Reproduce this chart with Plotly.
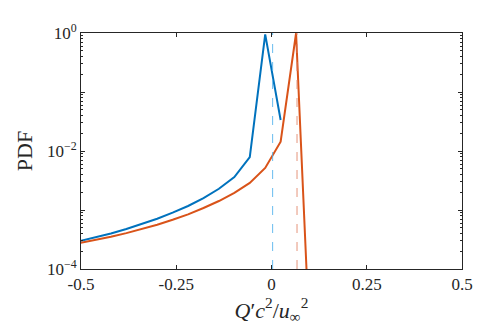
import plotly.graph_objects as go

# bin centres
x_blue = [-0.5025, -0.462, -0.4215, -0.381, -0.3405, -0.300, -0.2595, -0.219,
          -0.1785, -0.138, -0.0975, -0.057, -0.0165, 0.024]
pdf_blue = [2.99e-4, 3.43e-4, 4.01e-4, 4.76e-4, 5.77e-4, 7.12e-4, 9.0e-4, 1.17e-3,
            1.59e-3, 2.29e-3, 3.62e-3, 7.91e-3, 0.95, 0.0335]

x_orange = [-0.5025, -0.462, -0.4215, -0.381, -0.3405, -0.300, -0.2595, -0.219,
            -0.1785, -0.138, -0.0975, -0.057, -0.0165, 0.024, 0.0645, 0.105]
pdf_orange = [2.76e-4, 3.10e-4, 3.53e-4, 4.06e-4, 4.74e-4, 5.64e-4, 6.82e-4, 8.45e-4,
              1.08e-3, 1.42e-3, 1.95e-3, 2.88e-3, 5.15e-3, 0.0144, 0.99, 1.2e-6]

mean_blue = 0.003
mean_orange = 0.067

x_ticks = [-0.5, -0.25, 0, 0.25, 0.5]
x_ticktext = ["-0.5", "-0.25", "0", "0.25", "0.5"]
y_ticks = [1e-4, 1e-3, 1e-2, 1e-1, 1]
y_ticktext = ["10<sup>\u22124</sup>", "", "10<sup>\u22122</sup>", "", "10<sup>0</sup>"]

BLUE = "#0072BD"
ORANGE = "#D95319"
AX = "#262626"
FONT = "Liberation Serif"

minor_vals = [m * 10 ** e for e in range(-4, 0) for m in range(2, 10)]

fig = go.Figure()
fig.add_trace(go.Scatter(x=x_blue, y=pdf_blue, mode="lines",
                         line=dict(color=BLUE, width=2), showlegend=False))
fig.add_trace(go.Scatter(x=x_orange, y=pdf_orange, mode="lines",
                         line=dict(color=ORANGE, width=2), showlegend=False))
fig.add_trace(go.Scatter(x=[mean_blue, mean_blue], y=[1e-4, 1], mode="lines",
                         line=dict(color="rgba(77,175,235,0.85)", width=1, dash="dash"),
                         showlegend=False))
fig.add_trace(go.Scatter(x=[mean_orange, mean_orange], y=[1e-4, 1], mode="lines",
                         line=dict(color="rgba(225,130,100,0.85)", width=1, dash="dash"),
                         showlegend=False))

fig.update_layout(
    width=498, height=335,
    margin=dict(l=73, r=44, t=25, b=74, autoexpand=False),
    paper_bgcolor="white", plot_bgcolor="white",
    font=dict(family=FONT, size=17, color=AX),
    xaxis=dict(range=[-0.5, 0.5], tickvals=x_ticks, ticktext=x_ticktext,
               ticks="inside", ticklen=4, tickcolor=AX, showline=True, linecolor=AX,
               linewidth=1, mirror="ticks", showgrid=False, zeroline=False,
               automargin=False,
               title=dict(text="<i>Q</i>\u2032<i>c</i><sup>2</sup>/<i>u</i><sub>\u221e</sub><sup>2</sup>",
                          font=dict(size=22), standoff=3),
               tickfont=dict(size=17)),
    yaxis=dict(type="log", range=[-4, 0], tickvals=y_ticks, ticktext=y_ticktext,
               ticks="inside", ticklen=4, tickcolor=AX, showline=True, linecolor=AX,
               linewidth=1, mirror="ticks", showgrid=False, zeroline=False,
               automargin=False,
               minor=dict(tickvals=minor_vals, ticks="inside", ticklen=2,
                          tickcolor=AX, showgrid=False),
               title=dict(text="PDF", font=dict(size=22), standoff=8),
               tickfont=dict(size=17)),
)

fig.write_html("out.html")
